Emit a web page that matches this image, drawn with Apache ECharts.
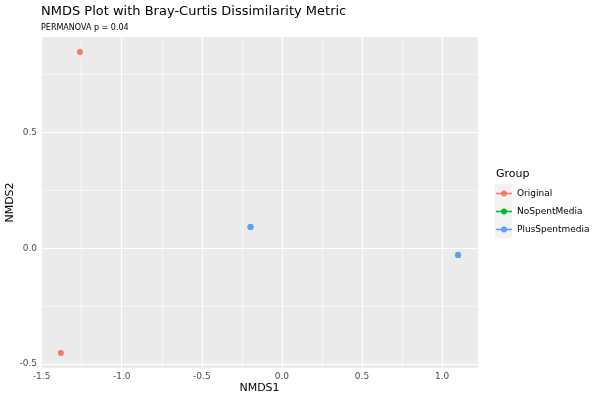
<!DOCTYPE html>
<html>
<head>
<meta charset="utf-8">
<script src="https://cdn.jsdelivr.net/npm/echarts@6/dist/echarts.min.js"></script>
<style>
  html, body { margin: 0; padding: 0; background: #fff; }
  #chart { width: 600px; height: 400px; }
</style>
</head>
<body>
<div id="chart"></div>
<script>
// values
const groups = ['Original', 'NoSpentMedia', 'PlusSpentmedia'];
const groupColors = ['#F8766D', '#00BA38', '#619CFF'];
const originalNMDS1 = [-1.261, -1.380];
const originalNMDS2 = [0.846, -0.452];
const noSpentNMDS1 = [-0.196, 1.100];
const noSpentNMDS2 = [0.091, -0.030];
const plusSpentNMDS1 = [-0.196, 1.100];
const plusSpentNMDS2 = [0.091, -0.030];
const xTicks = [-1.5, -1.0, -0.5, 0.0, 0.5, 1.0];
const xMinor = [-1.25, -0.75, -0.25, 0.25, 0.75];
const yTicks = [-0.5, 0.0, 0.5];
const yMinor = [-0.25, 0.25, 0.75];

const font = 'DejaVu Sans';
const pairs = (xs, ys) => xs.map((x, i) => [x, ys[i]]);

const gridLines = [];
xTicks.forEach(v => gridLines.push({ xAxis: v, lineStyle: { width: 1.1 } }));
xMinor.forEach(v => gridLines.push({ xAxis: v, lineStyle: { width: 0.55 } }));
yTicks.forEach(v => gridLines.push({ yAxis: v, lineStyle: { width: 1.1 } }));
yMinor.forEach(v => gridLines.push({ yAxis: v, lineStyle: { width: 0.55 } }));

const pointSeries = [
  pairs(originalNMDS1, originalNMDS2),
  pairs(noSpentNMDS1, noSpentNMDS2),
  pairs(plusSpentNMDS1, plusSpentNMDS2)
].map((d, i) => ({
  name: groups[i],
  type: 'scatter',
  data: d,
  symbolSize: 6,
  z: 5,
  itemStyle: { color: groupColors[i], opacity: 1 }
}));

const axisCommon = {
  type: 'value',
  axisLine: { show: false },
  splitLine: { show: false },
  axisTick: { length: 3, lineStyle: { color: '#333333', width: 1 } },
  axisLabel: { color: '#4D4D4D', fontSize: 9, fontFamily: font, margin: 4,
    formatter: v => v.toFixed(1) },
  nameLocation: 'middle',
  nameMoveOverlap: false,
  nameTextStyle: { color: '#000', fontSize: 11, fontFamily: font }
};

const chart = echarts.init(document.getElementById('chart'));
chart.setOption({
  animation: false,
  title: [
    { text: 'NMDS Plot with Bray-Curtis Dissimilarity Metric', left: 36, top: 0,
      textStyle: { fontSize: 13, fontWeight: 'normal', color: '#000', fontFamily: font } },
    { text: 'PERMANOVA p = 0.04', left: 36, top: 19,
      textStyle: { fontSize: 8, fontWeight: 'normal', color: '#000', fontFamily: font } },
    { text: 'Group', left: 491, top: 164,
      textStyle: { fontSize: 11, fontWeight: 'normal', color: '#000', fontFamily: font } }
  ],
  grid: {
    left: 41, right: 122, top: 37, bottom: 32,
    show: true, backgroundColor: '#EBEBEB', borderWidth: 0,
    containLabel: false, outerBoundsMode: 'none'
  },
  xAxis: Object.assign({}, axisCommon, {
    min: -1.504, max: 1.224, name: 'NMDS1', nameGap: 15,
    axisTick: Object.assign({}, axisCommon.axisTick, { customValues: xTicks }),
    axisLabel: Object.assign({}, axisCommon.axisLabel, { customValues: xTicks })
  }),
  yAxis: Object.assign({}, axisCommon, {
    min: -0.517, max: 0.911, name: 'NMDS2', nameGap: 25,
    axisTick: Object.assign({}, axisCommon.axisTick, { customValues: yTicks }),
    axisLabel: Object.assign({}, axisCommon.axisLabel, { customValues: yTicks })
  }),
  legend: {
    data: groups,
    orient: 'vertical',
    left: 491, top: 184,
    itemWidth: 16, itemHeight: 6, itemGap: 9,
    icon: 'path://M0,2.3 L16,2.3 L16,3.7 L0,3.7 Z M8,0 A3,3 0 1 1 8,6 A3,3 0 1 1 8,0 Z',
    textStyle: { fontSize: 9, color: '#000', fontFamily: font },
    selectedMode: false
  },
  graphic: [
    { type: 'rect', shape: { x: 495, y: 184, width: 17, height: 54 },
      style: { fill: '#F2F2F2' }, z: 0 }
  ],
  series: [
    {
      name: 'grid',
      type: 'scatter',
      data: [],
      z: 1,
      silent: true,
      markLine: {
        silent: true,
        symbol: ['none', 'none'],
        label: { show: false },
        lineStyle: { color: '#FFFFFF', type: 'solid' },
        data: gridLines
      }
    }
  ].concat(pointSeries)
});
</script>
</body>
</html>
